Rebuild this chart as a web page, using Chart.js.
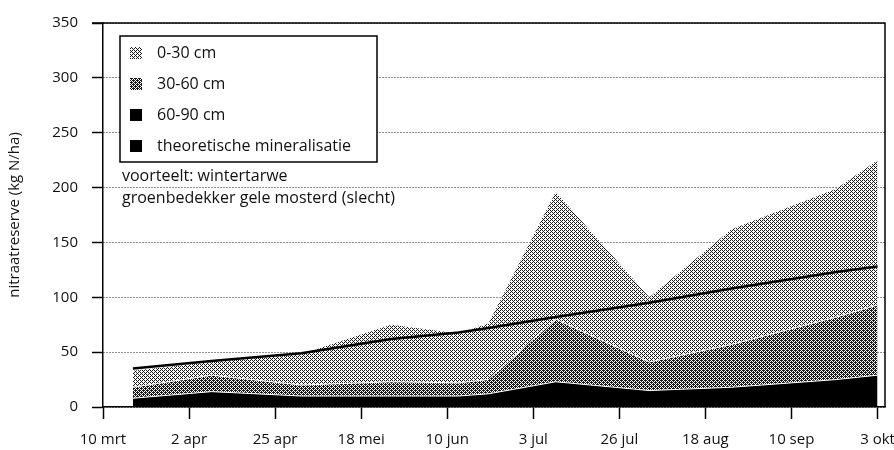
<!DOCTYPE html>
<html lang="nl">
<head>
<meta charset="utf-8">
<title>Nitraatreserve</title>
<script src="https://cdn.jsdelivr.net/npm/chart.js@4.4.1/dist/chart.umd.min.js"></script>
<style>
    html, body { margin: 0; padding: 0; background: #fff; }
    canvas { display: block; }
</style>
</head>
<body>
<canvas id="chart-nitraat" width="894" height="450"></canvas>
<script>
// Meetmomenten in dagen na 10 mrt
const meetDagen = [8, 29, 53, 77, 95, 103, 121, 146, 168, 196, 207];

// Dikte van elke laag (kg N/ha), gestapeld van onder naar boven
const laag60_90 = [8, 14, 10, 10, 10, 12, 23, 15, 18, 25, 29];
const laag30_60 = [10, 15, 10, 13, 12, 13, 57, 26, 39, 57, 64];
const laag0_30 = [15, 12, 28, 52, 45, 51, 116, 59, 105, 117, 132];

// Theoretische mineralisatie (lijn)
const theoretisch = [35, 42, 49, 62, 68, 72, 82, 95, 108, 123, 128];

// As-labels
const tickDagen = [0, 23, 46, 69, 92, 115, 138, 161, 184, 207];
const tickLabels = ['10 mrt', '2 apr', '25 apr', '18 mei', '10 jun', '3 jul', '26 jul', '18 aug', '10 sep', '3 okt'];
const reeksNamen = ['0-30 cm', '30-60 cm', '60-90 cm', 'theoretische mineralisatie'];
const notities = ['voorteelt: wintertarwe', 'groenbedekker gele mosterd (slecht)'];
const yTitel = 'nitraatreserve (kg N/ha)';

const FONT = "'Open Sans', 'DejaVu Sans', sans-serif";

window.NitraatChart = {
    chart: null,
    patroonLicht: null,
    patroonDonker: null,

    init() {
        // Rasterpatronen (dither) voor de grijze lagen
        this.patroonLicht = this.maakPatroon(4, [[0, 0], [2, 2], [2, 0], [0, 2], [1, 1], [3, 3]]);
        this.patroonDonker = this.maakPatroon(4, [[0, 0], [2, 2], [2, 0], [0, 2], [1, 1], [3, 3], [3, 1], [1, 3], [1, 0], [3, 2]]);

        this.setupChart();
    },

    // Klein tegeltje met zwarte pixels als vulpatroon
    maakPatroon(size, cellen) {
        const c = document.createElement('canvas');
        c.width = size;
        c.height = size;
        const g = c.getContext('2d');
        g.fillStyle = '#fff';
        g.fillRect(0, 0, size, size);
        g.fillStyle = '#1a1a1a';
        cellen.forEach(([x, y]) => g.fillRect(x, y, 1, 1));
        return g.createPattern(c, 'repeat');
    },

    punten(waarden) {
        return meetDagen.map((d, i) => ({ x: d, y: waarden[i] }));
    },

    setupChart() {
        const self = this;
        const ctx = document.getElementById('chart-nitraat');

        // Kader boven en rechts van het plotgebied
        const kaderPlugin = {
            id: 'kader',
            afterDatasetsDraw(chart) {
                const { ctx, chartArea: a } = chart;
                ctx.save();
                ctx.strokeStyle = '#000';
                ctx.lineWidth = 1.5;
                ctx.beginPath();
                ctx.moveTo(a.left - 11, a.top);
                ctx.lineTo(a.right, a.top);
                ctx.lineTo(a.right, a.bottom);
                ctx.stroke();
                ctx.restore();
            }
        };

        // Legenda in een kader, plus de notities eronder
        const legendaPlugin = {
            id: 'legenda',
            afterDraw(chart) {
                const { ctx, chartArea: a } = chart;
                const bx = a.left + 17;
                const by = a.top + 13;
                const vullingen = [self.patroonLicht, self.patroonDonker, '#000', '#000'];

                ctx.save();
                ctx.fillStyle = '#fff';
                ctx.fillRect(bx, by, 257, 126);
                ctx.strokeStyle = '#000';
                ctx.lineWidth = 1.5;
                ctx.strokeRect(bx, by, 257, 126);

                ctx.font = '16px ' + FONT;
                ctx.textBaseline = 'middle';
                reeksNamen.forEach((naam, i) => {
                    const y = by + 17 + i * 31;
                    ctx.fillStyle = vullingen[i];
                    ctx.fillRect(bx + 10, y - 6, 12, 12);
                    ctx.fillStyle = '#111';
                    ctx.fillText(naam, bx + 37, y);
                });

                notities.forEach((tekst, i) => {
                    ctx.fillText(tekst, a.left + 19, a.top + 153 + i * 22);
                });
                ctx.restore();
            }
        };

        this.chart = new Chart(ctx, {
            type: 'line',
            data: {
                datasets: [
                    {
                        label: reeksNamen[3],
                        data: this.punten(theoretisch),
                        stack: 'theorie',
                        borderColor: '#000',
                        borderWidth: 2.5,
                        pointRadius: 0,
                        fill: false
                    },
                    {
                        label: reeksNamen[2],
                        data: this.punten(laag60_90),
                        stack: 'bodem',
                        backgroundColor: '#000',
                        borderColor: '#fff',
                        borderWidth: 1,
                        pointRadius: 0,
                        fill: 'origin'
                    },
                    {
                        label: reeksNamen[1],
                        data: this.punten(laag30_60),
                        stack: 'bodem',
                        backgroundColor: this.patroonDonker,
                        borderColor: '#fff',
                        borderWidth: 1,
                        pointRadius: 0,
                        fill: '-1'
                    },
                    {
                        label: reeksNamen[0],
                        data: this.punten(laag0_30),
                        stack: 'bodem',
                        backgroundColor: this.patroonLicht,
                        borderWidth: 0,
                        pointRadius: 0,
                        fill: '-1'
                    }
                ]
            },
            options: {
                responsive: false,
                animation: false,
                devicePixelRatio: 1,
                layout: {
                    padding: { top: 23, right: 9, left: 0, bottom: 0 }
                },
                plugins: {
                    legend: { display: false },
                    tooltip: { enabled: false }
                },
                elements: {
                    line: { tension: 0 }
                },
                scales: {
                    x: {
                        type: 'linear',
                        min: 0,
                        max: 209,
                        afterBuildTicks(scale) {
                            scale.ticks = tickDagen.map(v => ({ value: v }));
                        },
                        afterFit(scale) {
                            // vaste hoogte, geen extra ruimte voor overhangende labels
                            scale.height = 43;
                            scale.paddingLeft = 0;
                            scale.paddingRight = 0;
                        },
                        ticks: {
                            color: '#111',
                            font: { family: FONT, size: 15 },
                            padding: 12,
                            maxRotation: 0,
                            autoSkip: false,
                            callback(value) {
                                const i = tickDagen.indexOf(value);
                                return i >= 0 ? tickLabels[i] : '';
                            }
                        },
                        grid: {
                            drawOnChartArea: false,
                            drawTicks: true,
                            tickLength: 12,
                            tickColor: '#000',
                            tickWidth: 1.5
                        },
                        border: { color: '#000', width: 1.5 }
                    },
                    y: {
                        stacked: true,
                        min: 0,
                        max: 350,
                        afterFit(scale) {
                            scale.width = 103;
                            scale.paddingTop = 0;
                            scale.paddingBottom = 0;
                        },
                        ticks: {
                            stepSize: 50,
                            color: '#111',
                            font: { family: FONT, size: 15 },
                            padding: 14
                        },
                        title: {
                            display: true,
                            text: yTitel,
                            color: '#111',
                            font: { family: FONT, size: 15 },
                            padding: { top: 6, bottom: 0 }
                        },
                        grid: {
                            color: '#222',
                            lineWidth: 1,
                            tickLength: 11,
                            tickColor: '#000',
                            tickWidth: 1.5,
                            tickBorderDash: []
                        },
                        border: { color: '#000', width: 1.5, dash: [1, 2] }
                    }
                }
            },
            plugins: [kaderPlugin, legendaPlugin]
        });
    }
};

if (document.readyState === 'loading') {
    document.addEventListener('DOMContentLoaded', () => window.NitraatChart.init());
} else {
    window.NitraatChart.init();
}
</script>
</body>
</html>
